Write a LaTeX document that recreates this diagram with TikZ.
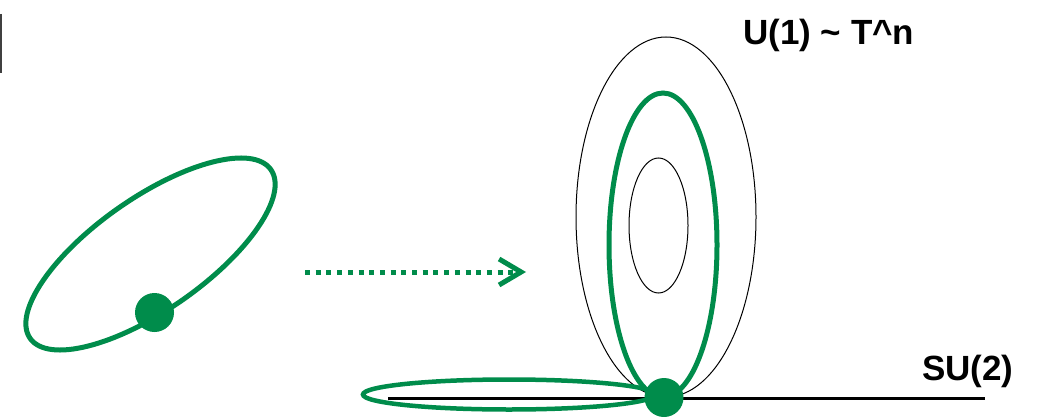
\documentclass[tikz,border=0pt]{standalone}
\usepackage{fontspec}
\setmainfont{Liberation Sans}
\usetikzlibrary{arrows.meta}
\definecolor{loopgreen}{RGB}{0,140,75}
\tikzset{
  greenloop/.style={draw=loopgreen, line width=5pt},
  thinloop/.style={draw=black, line width=1pt},
  basept/.style={circle, fill=loopgreen, inner sep=0pt, minimum size=39pt},
  grouplabel/.style={font=\fontsize{35}{40}\selectfont\bfseries, inner sep=0pt, anchor=base west}
}
\begin{document}
\begin{tikzpicture}[x=1pt, y=-1pt]
  \useasboundingbox (0,0) rectangle (1046,417);
  \draw[line width=1.5pt, black!75] (1,14) -- (1,73);
  \draw[greenloop, rotate around={35:(150.5,254)}] (150.5,254) ellipse [x radius=147pt, y radius=56pt];
  \node[basept] (src) at (154.5,312.5) {};
  \coordinate (from) at (305,272);
  \coordinate (to) at (526,272);
  \draw[loopgreen, line width=5pt, dash pattern=on 5pt off 5.7pt, -{Straight Barb[length=22pt,width=26pt]}] (from) -- (to);
  \draw[thinloop] (666,217) ellipse [x radius=90pt, y radius=180pt];
  \draw[thinloop] (658.5,225.5) ellipse [x radius=29.5pt, y radius=67.5pt];
  \draw[line width=3pt] (388,398) -- (985,398);
  \draw[greenloop] (663,245) ellipse [x radius=54pt, y radius=152pt];
  \draw[greenloop, line width=4.5pt] (509,394.5) ellipse [x radius=146pt, y radius=15pt];
  \node[basept] (base) at (664,397.5) {};
  \node[grouplabel] (u1) at (743,45) {U(1) \textasciitilde{} T\textasciicircum n};
  \node[grouplabel] (su2) at (922,380) {SU(2)};
\end{tikzpicture}
\end{document}
